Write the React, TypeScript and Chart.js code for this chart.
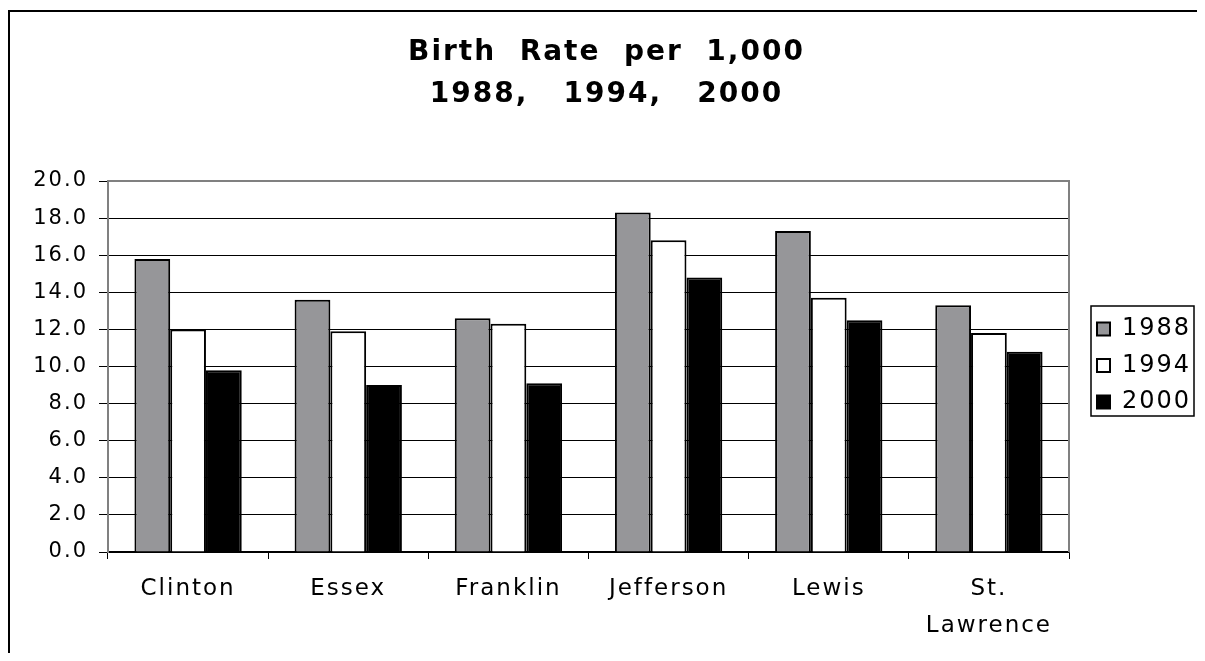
import React, { useEffect, useRef } from "react";
import { Chart, registerables } from "chart.js";

Chart.register(...registerables);

const categories: (string | string[])[] = ["Clinton", "Essex", "Franklin", "Jefferson", "Lewis", ["St.", "Lawrence"]];
const seriesNames = ["1988", "1994", "2000"];
const values1988 = [15.8, 13.6, 12.6, 18.3, 17.3, 13.3];
const values1994 = [12.0, 11.9, 12.3, 16.8, 13.7, 11.8];
const values2000 = [9.8, 9.0, 9.1, 14.8, 12.5, 10.8];
const titleLines = ["Birth  Rate  per  1,000", "1988,   1994,   2000"];
const yMin = 0;
const yMax = 20;
const yStep = 2;

const FONT = "'DejaVu Sans', 'Liberation Sans', Arial, sans-serif";
const FILL_1988 = "#969699";
const FILL_1994 = "#ffffff";
const FILL_2000 = "#000000";

export default function App() {
  const ref = useRef<HTMLCanvasElement>(null);

  useEffect(() => {
    const canvas = ref.current as HTMLCanvasElement;

    const wrapSpacing = (box: any, chart: any, sp: string) => {
      if (!box || box.__wrapped) return;
      const orig = box.draw;
      box.draw = function (...args: any[]) {
        const c = chart.ctx as any;
        const prev = c.letterSpacing;
        c.letterSpacing = sp;
        orig.apply(this, args);
        c.letterSpacing = prev;
      };
      box.__wrapped = true;
    };

    const excelLook = {
      id: "excelLook",
      beforeUpdate(chart: any) {
        const lg = chart.legend;
        if (lg && !lg.__patched) {
          const origFit = lg.fit;
          lg.fit = function (...a: any[]) {
            origFit.apply(this, a);
            this.width = 136;
          };
          lg.__patched = true;
        }
      },
      afterLayout(chart: any) {
        const lg = chart.legend;
        if (!lg) return;
        const P = lg.options.labels.padding;
        const fs = lg.options.labels.font.size;
        const left = chart.chartArea.right + 28 - P;
        lg.left = left;
        lg.right = left + lg.width;
        const firstCenter = 321;
        lg.top = firstCenter - P - fs / 2;
      },
      beforeDraw(chart: any) {
        const ctx = chart.ctx as any;
        ctx.letterSpacing = "2px";
        wrapSpacing(chart.titleBlock, chart, "2px");
        wrapSpacing(chart.legend, chart, "2px");
        wrapSpacing(chart.scales && chart.scales.x, chart, "0.5px");
        // outer frame
        ctx.save();
        ctx.strokeStyle = "#000";
        ctx.lineWidth = 2;
        ctx.beginPath();
        ctx.moveTo(chart.width, 3);
        ctx.lineTo(1, 3);
        ctx.lineTo(1, chart.height);
        ctx.stroke();
        ctx.restore();
      },
      afterDatasetsDraw(chart: any) {
        const ctx = chart.ctx;
        const a = chart.chartArea;
        ctx.save();
        ctx.strokeStyle = "#808080";
        ctx.lineWidth = 2;
        ctx.beginPath();
        ctx.moveTo(a.left, a.top);
        ctx.lineTo(a.right, a.top);
        ctx.lineTo(a.right, a.bottom);
        ctx.stroke();
        ctx.restore();
      },
      afterDraw(chart: any) {
        const lg = chart.legend;
        if (!lg || !lg.legendHitBoxes || !lg.legendHitBoxes.length) return;
        const hb = lg.legendHitBoxes;
        const first = hb[0];
        const last = hb[hb.length - 1];
        const y0 = first.top - 11;
        const y1 = last.top + last.height + 2;
        const x0 = first.left - 6;
        const x1 = chart.chartArea.right + 125;
        const ctx = chart.ctx;
        ctx.save();
        ctx.strokeStyle = "#000";
        ctx.lineWidth = 1.5;
        ctx.strokeRect(x0, y0, x1 - x0, y1 - y0);
        ctx.restore();
      },
    };

    const chart = new Chart(canvas, {
      type: "bar",
      data: {
        labels: categories as any,
        datasets: [
          { label: seriesNames[0], data: values1988, backgroundColor: FILL_1988, borderColor: "#000", borderWidth: 2 },
          { label: seriesNames[1], data: values1994, backgroundColor: FILL_1994, borderColor: "#000", borderWidth: 2 },
          { label: seriesNames[2], data: values2000, backgroundColor: FILL_2000, borderColor: "#000", borderWidth: 2 },
        ],
      },
      options: {
        animation: false,
        responsive: true,
        maintainAspectRatio: false,
        layout: { padding: { top: 0, left: 0, right: 0, bottom: 0 } },
        datasets: {
          bar: { categoryPercentage: 0.67, barPercentage: 1.0 },
        },
        plugins: {
          tooltip: { enabled: false },
          title: {
            display: true,
            text: titleLines,
            color: "#000",
            font: { family: FONT, size: 28, weight: "bold", lineHeight: "42px" as any },
            padding: { top: 24, bottom: 65 },
          },
          legend: {
            display: true,
            position: "right",
            align: "start",
            labels: {
              color: "#000",
              font: { family: FONT, size: 24 },
              boxWidth: 13,
              boxHeight: 13,
              padding: 12.5,
            },
          },
        },
        scales: {
          x: {
            grid: {
              display: true,
              offset: true,
              drawOnChartArea: false,
              drawTicks: true,
              tickLength: 7,
              color: "#000",
              lineWidth: 1,
            },
            border: { display: true, color: "#000", width: 1.5 },
            ticks: {
              color: "#000",
              font: { family: FONT, size: 23, lineHeight: "37px" as any },
              padding: 11.5,
              autoSkip: false,
              maxRotation: 0,
              minRotation: 0,
            },
            afterFit(scale: any) {
              scale.height = 109;
            },
          },
          y: {
            min: yMin,
            max: yMax,
            grid: {
              color: "#000",
              lineWidth: 1,
              drawTicks: true,
              tickLength: 9,
            },
            border: { display: true, color: "#808080", width: 2 },
            ticks: {
              stepSize: yStep,
              color: "#000",
              font: { family: FONT, size: 21 },
              padding: 11,
              callback: (v: any) => Number(v).toFixed(1),
            },
            afterFit(scale: any) {
              scale.width = 100;
            },
          },
        },
      },
      plugins: [excelLook],
    });

    return () => chart.destroy();
  }, []);

  return (
    <div style={{ position: "relative", width: 1197, height: 653, marginBottom: -8 }}>
      <canvas ref={ref} />
    </div>
  );
}
